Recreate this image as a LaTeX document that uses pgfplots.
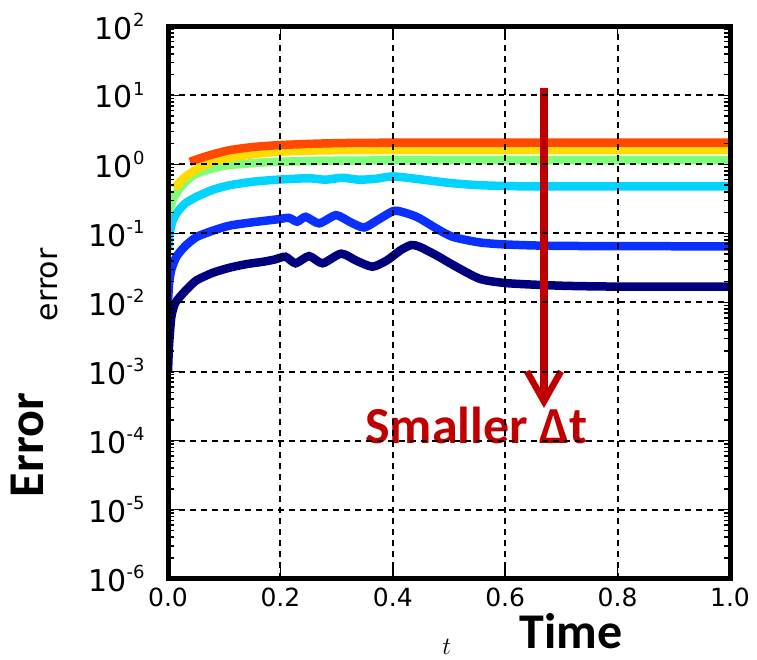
\documentclass[border=0pt]{standalone}
\usepackage{fontspec}
\setmainfont{DejaVu Sans}
\newfontfamily\carlito{Carlito}
\usepackage{pgfplots}
\pgfplotsset{compat=1.18}

\definecolor{jnavy}{HTML}{00007F}
\definecolor{jblue}{HTML}{0A30FF}
\definecolor{jcyan}{HTML}{00D4FF}
\definecolor{jgreen}{HTML}{7DFF7A}
\definecolor{jyellow}{HTML}{FFDC00}
\definecolor{jred}{HTML}{FF4800}
\definecolor{darkred}{HTML}{C00000}

% 10^n tick label in the text font
\newcommand{\ex}[1]{10\raisebox{0.42em}{\fontsize{18}{18}\selectfont #1}}

\begin{document}
\begin{tikzpicture}[x=1pt,y=1pt]
\path[use as bounding box] (0,0) rectangle (757,660);
\begin{axis}[
    at={(168pt,81.3pt)}, anchor=south west,
    width=562pt, height=552.4pt, scale only axis,
    ymode=log,
    xmin=0, xmax=1, ymin=1e-6, ymax=1e2,
    xtick={0,0.2,0.4,0.6,0.8,1},
    xticklabels={0.0,0.2,0.4,0.6,0.8,1.0},
    ytick={1e-6,1e-5,1e-4,1e-3,1e-2,1e-1,1,10,100},
    yticklabels={\ex{-6},\ex{-5},\ex{-4},\ex{-3},\ex{-2},\ex{-1},\ex{0},\ex{1},\ex{2}},
    x tick label style={font=\fontsize{25}{25}\selectfont, yshift=-6pt},
    y tick label style={font=\fontsize{30}{30}\selectfont, xshift=-20pt},
    tick align=inside,
    major tick length=12pt, minor tick length=6pt,
    tick style={black, line width=1.5pt},
    axis line style={line width=5pt},
    xmajorgrids=true, ymajorgrids=true,
    major grid style={black, line width=2pt, dash pattern=on 6pt off 5pt},
    axis on top,
    clip mode=individual,
    every axis plot/.append style={line width=8.5pt, smooth, tension=0.4},
]

\addplot[color=jnavy] coordinates {
 (0.000,0.0010)(0.002,0.0025)(0.006,0.0062)(0.012,0.0095)(0.021,0.012)
 (0.035,0.016)(0.051,0.021)(0.08,0.027)(0.11,0.032)(0.14,0.036)
 (0.17,0.039)(0.19,0.042)(0.209,0.046)(0.227,0.037)
 (0.251,0.047)(0.275,0.037)(0.308,0.051)(0.336,0.040)(0.364,0.033)
 (0.39,0.041)(0.415,0.058)(0.433,0.068)(0.448,0.064)(0.48,0.047)
 (0.507,0.035)(0.555,0.022)(0.605,0.019)(0.70,0.0175)(0.80,0.017)(1.0,0.017)
};
\addplot[color=jblue] coordinates {
 (0.000,0.010)(0.002,0.019)(0.006,0.030)(0.015,0.046)(0.03,0.065)
 (0.051,0.089)(0.08,0.110)(0.11,0.130)(0.15,0.145)(0.194,0.160)
 (0.215,0.168)(0.230,0.148)(0.245,0.174)(0.269,0.140)(0.299,0.184)
 (0.325,0.145)(0.349,0.122)(0.375,0.160)(0.403,0.213)(0.43,0.190)
 (0.448,0.165)(0.48,0.115)(0.507,0.089)(0.555,0.074)(0.605,0.069)
 (0.70,0.066)(1.0,0.065)
};
\addplot[color=jcyan] coordinates {
 (0.000,0.06)(0.003,0.10)(0.008,0.15)(0.015,0.195)(0.03,0.27)
 (0.051,0.34)(0.08,0.43)(0.11,0.50)(0.15,0.56)(0.194,0.60)
 (0.25,0.63)(0.28,0.60)(0.31,0.64)(0.34,0.60)(0.37,0.62)
 (0.40,0.67)(0.44,0.62)(0.50,0.54)(0.555,0.50)(0.65,0.48)(1.0,0.48)
};
\addplot[color=jgreen] coordinates {
 (0.000,0.20)(0.002,0.22)(0.01,0.33)(0.021,0.45)(0.035,0.60)
 (0.051,0.74)(0.08,0.88)(0.11,0.98)(0.15,1.04)(0.194,1.09)
 (0.30,1.13)(0.50,1.15)(1.0,1.15)
};
\addplot[color=jyellow] coordinates {
 (0.012,0.45)(0.025,0.60)(0.039,0.74)(0.06,0.93)(0.08,1.09)
 (0.11,1.25)(0.15,1.40)(0.194,1.52)(0.25,1.58)(0.35,1.61)(1.0,1.61)
};
\addplot[color=jred] coordinates {
 (0.039,1.09)(0.06,1.25)(0.08,1.40)(0.11,1.61)(0.15,1.78)
 (0.196,1.90)(0.25,1.98)(0.30,2.03)(0.40,2.06)(1.0,2.06)
};

% annotation arrow
\draw[darkred, line width=7.5pt] (axis cs:0.669,12.8) -- (axis cs:0.669,3.9e-4);
\draw[darkred, line width=6.5pt, line join=miter]
  ([xshift=-17pt,yshift=30pt]axis cs:0.669,3.7e-4) -- (axis cs:0.669,3.7e-4)
  -- ([xshift=17pt,yshift=30pt]axis cs:0.669,3.7e-4);
\node[darkred, font=\carlito\bfseries\fontsize{52}{52}\selectfont, anchor=base, inner sep=0pt]
  at (axis description cs:0.549,0.244) {Smaller Δt};

% axis labels
\node[font=\fontsize{30}{30}\selectfont, rotate=90, anchor=center, inner sep=0pt]
  at (axis description cs:-0.212,0.532) {error};
\node[font=\fontsize{28}{28}\selectfont, anchor=center, inner sep=0pt]
  at (axis description cs:0.496,-0.124) {$t$};
\node[font=\carlito\bfseries\fontsize{50}{50}\selectfont, rotate=90, anchor=base, inner sep=0pt]
  at (axis description cs:-0.222,0.242) {Error};
\node[font=\carlito\bfseries\fontsize{50}{50}\selectfont, anchor=base, inner sep=0pt]
  at (axis description cs:0.717,-0.1255) {Time};
\end{axis}
\end{tikzpicture}
\end{document}
